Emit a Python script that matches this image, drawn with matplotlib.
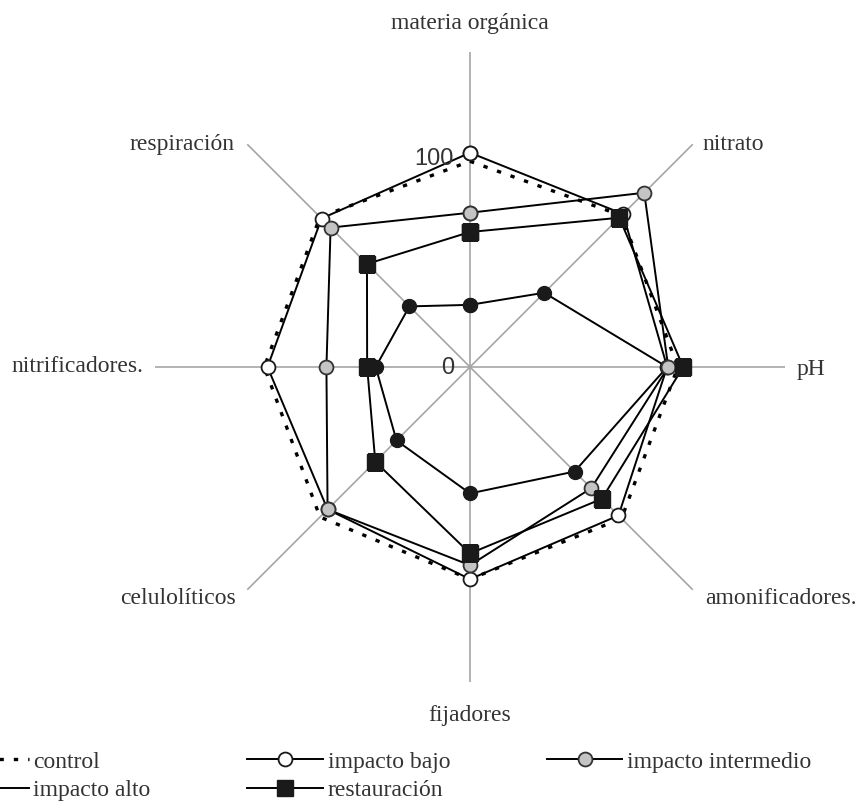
import numpy as np
import matplotlib

matplotlib.use("Agg")
import matplotlib.pyplot as plt

# Data (% of reference level)
categories = ["materia orgánica", "nitrato", "pH", "amonificadores.",
              "fijadores", "celulolíticos", "nitrificadores.", "respiración"]
control = [96, 100, 97, 100, 99, 99, 96, 99]
impacto_bajo = [100, 101, 92, 98, 99, 94, 94.5, 98]
impacto_intermedio = [72, 115, 92.5, 80, 92.5, 94, 67, 92]
impacto_alto = [29, 49, 92, 69, 59, 48.5, 44, 40]
restauracion = [63, 98.5, 99.5, 87, 87, 62.5, 48, 68]
radial_labels = [0, 100]

RMAX = 147
SERIF = "Liberation Serif"
SANS = "Liberation Sans"
TXT = "#333333"

angles = np.linspace(0, 2 * np.pi, len(categories), endpoint=False)


def closed(vals):
    return list(vals) + [vals[0]]


theta = closed(angles)

fig = plt.figure(figsize=(8.57, 8.02), dpi=100)
W, H = 857, 802
cx, cy, rad = 470, 435, 315
ax = fig.add_axes([(cx - rad) / W, (cy - rad) / H, 2 * rad / W, 2 * rad / H],
                  projection="polar")
ax.set_theta_offset(np.pi / 2)
ax.set_theta_direction(-1)
ax.set_ylim(0, RMAX)
ax.grid(False)
ax.spines["polar"].set_visible(False)
ax.set_xticks([])
ax.set_yticks([])
ax.patch.set_alpha(0)

# spokes
for a in angles:
    ax.plot([a, a], [0, RMAX], color="#a5a5a5", lw=1.2, zorder=1)

# series
l_ctrl, = ax.plot(theta, closed(control), color="black", lw=2.4,
                  ls=(0, (1.3, 3.0)), label="control", zorder=2)
l_alto, = ax.plot(theta, closed(impacto_alto), color="black", lw=1.4,
                  marker="o", ms=10, mfc="#1a1a1a", mec="#1a1a1a",
                  label="impacto alto", zorder=3)
l_bajo, = ax.plot(theta, closed(impacto_bajo), color="black", lw=1.4,
                  marker="o", ms=10, mfc="white", mec="#1a1a1a", mew=1.3,
                  label="impacto bajo", zorder=4)
l_int, = ax.plot(theta, closed(impacto_intermedio), color="black", lw=1.4,
                 marker="o", ms=10, mfc="#c4c4c4", mec="#333333", mew=1.3,
                 label="impacto intermedio", zorder=5)
l_rest, = ax.plot(theta, closed(restauracion), color="black", lw=1.4,
                  marker="s", ms=11, mfc="#1a1a1a", mec="#1a1a1a",
                  label="restauración", zorder=6)

# radial value labels left of the top spoke
for v, dy in zip(radial_labels, [-1, -6]):
    ax.annotate(str(v), xy=(0, v), xytext=(-16, dy), textcoords="offset pixels",
                ha="right", va="center", fontsize=17, family=SANS, color=TXT,
                zorder=7)

# category labels
offsets = [((0, 28), "center"), ((10, 0), "left"), ((12, -3), "left"),
           ((12, -9), "left"), ((0, -33), "center"), ((-11, -9), "right"),
           ((-12, 0), "right"), ((-13, 0), "right")]
for a, name, (off, ha) in zip(angles, categories, offsets):
    ax.annotate(name, xy=(a, RMAX), xytext=off, textcoords="offset pixels",
                ha=ha, va="center", fontsize=17, family=SERIF, color=TXT,
                annotation_clip=False)

handles = [l_ctrl, l_alto, l_bajo, l_rest, l_int]
fig.legend(handles, [h.get_label() for h in handles], loc="upper left",
           bbox_to_anchor=(-47 / W, 1 - 751 / H), ncol=3, frameon=False,
           prop={"family": SERIF, "size": 17}, handlelength=3.2,
           handletextpad=0.2, columnspacing=4.1, borderpad=0,
           borderaxespad=0, labelspacing=0.3, numpoints=1,
           labelcolor=TXT)

fig.savefig("out.png", dpi=100)
